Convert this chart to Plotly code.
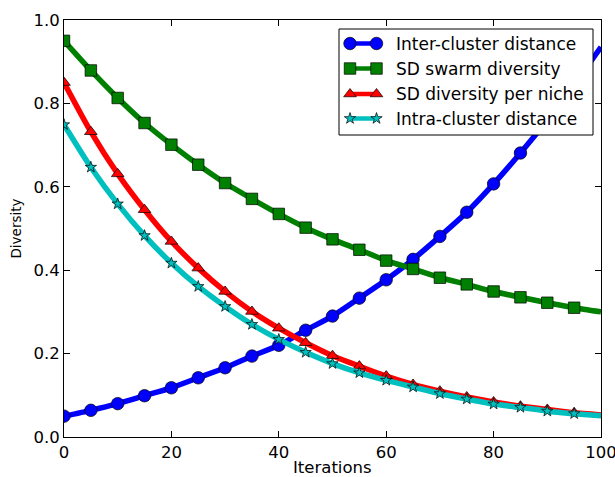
import plotly.graph_objects as go

# Iteration grid (markers every 5 iterations, lines run to 100)
iterations = [0, 5, 10, 15, 20, 25, 30, 35, 40, 45, 50,
              55, 60, 65, 70, 75, 80, 85, 90, 95, 100]

inter_cluster = [0.050, 0.064, 0.080, 0.099, 0.118, 0.142, 0.166, 0.194, 0.220, 0.256, 0.290,
                 0.333, 0.377, 0.426, 0.481, 0.539, 0.607, 0.681, 0.760, 0.845, 0.935]
sd_swarm = [0.950, 0.879, 0.813, 0.753, 0.701, 0.653, 0.609, 0.571, 0.535, 0.502, 0.474,
            0.449, 0.423, 0.403, 0.382, 0.366, 0.349, 0.335, 0.322, 0.310, 0.300]
sd_niche = [0.850, 0.732, 0.631, 0.545, 0.469, 0.405, 0.349, 0.301, 0.261, 0.226, 0.195,
            0.170, 0.146, 0.126, 0.110, 0.096, 0.084, 0.074, 0.066, 0.058, 0.053]
intra_cluster = [0.749, 0.647, 0.559, 0.483, 0.417, 0.361, 0.313, 0.270, 0.234, 0.203, 0.176,
                 0.154, 0.136, 0.120, 0.104, 0.091, 0.079, 0.071, 0.062, 0.056, 0.051]

series_names = ["Inter-cluster distance", "SD swarm diversity",
                "SD diversity per niche", "Intra-cluster distance"]
series_values = [inter_cluster, sd_swarm, sd_niche, intra_cluster]
series_colors = ["#0000ff", "#008000", "#ff0000", "#00bfbf"]
series_symbols = ["circle", "square", "triangle-up", "star"]
series_sizes = [12.5, 11.5, 11, 8.5]

FONT = "DejaVu Sans, Liberation Sans, sans-serif"
W, H = 615, 477
M_L, M_R, M_T, M_B = 64, 14, 20, 40

fig = go.Figure()
for name, vals, color, symbol, size in zip(series_names, series_values, series_colors,
                                           series_symbols, series_sizes):
    # smooth line all the way to the last iteration
    fig.add_trace(go.Scatter(
        x=iterations, y=vals, mode="lines", showlegend=False, hoverinfo="skip",
        line=dict(color=color, width=5.5, shape="spline", smoothing=0.6),
    ))
    # markers every 5 iterations (up to 95)
    fig.add_trace(go.Scatter(
        x=iterations[:-1], y=vals[:-1], mode="markers", name=name, showlegend=False,
        marker=dict(symbol=symbol, size=size, color=color,
                    line=dict(color="black", width=0.7)),
    ))

# Legend box drawn on an overlay axis measured in pixels (matplotlib-style
# samples: a short line with a marker at each end)
LEG_X0, LEG_X1, LEG_Y0, LEG_Y1 = 339, 593, 29, 135
LEG_ROWS = [43.5, 68.5, 94, 118.5]
SAMPLE_X = [350, 376.5]
TEXT_X = 394

fig.add_trace(go.Scatter(
    x=[LEG_X0, LEG_X1, LEG_X1, LEG_X0, LEG_X0],
    y=[LEG_Y0, LEG_Y0, LEG_Y1, LEG_Y1, LEG_Y0],
    xaxis="x2", yaxis="y2", mode="lines", fill="toself", fillcolor="white",
    line=dict(color="black", width=1), showlegend=False, hoverinfo="skip",
))
for name, color, symbol, size, row in zip(series_names, series_colors, series_symbols,
                                          series_sizes, LEG_ROWS):
    fig.add_trace(go.Scatter(
        x=SAMPLE_X, y=[row, row], xaxis="x2", yaxis="y2", mode="lines+markers",
        line=dict(color=color, width=4.5),
        marker=dict(symbol=symbol, size=size, color=color,
                    line=dict(color="black", width=0.7)),
        showlegend=False, hoverinfo="skip", cliponaxis=False,
    ))
    fig.add_annotation(
        x=TEXT_X, y=row, xref="x2", yref="y2", text=name, showarrow=False,
        xanchor="left", yanchor="middle",
        font=dict(family=FONT, size=17, color="black"),
    )

axis_common = dict(
    showgrid=False, zeroline=False, showline=True, linecolor="black", linewidth=1,
    mirror="ticks", ticks="inside", ticklen=6, tickwidth=1, tickcolor="black",
    tickfont=dict(family=FONT, size=16.5, color="black"),
    automargin=False, ticklabeloverflow="allow",
)

fig.update_xaxes(range=[0, 100], tick0=0, dtick=20, **axis_common)
fig.update_yaxes(range=[0, 1], tick0=0, dtick=0.2, tickformat=".1f",
                 title=dict(text="Diversity", font=dict(family=FONT, size=13.5, color="black"),
                            standoff=8),
                 **axis_common)

# x-axis title placed below the tick labels
fig.add_annotation(
    x=0.5, y=0, xref="paper", yref="paper", text="Iterations", showarrow=False,
    xanchor="center", yanchor="middle", yshift=-30, borderpad=0,
    font=dict(family=FONT, size=16.5, color="black"),
)

fig.update_layout(
    width=W, height=H,
    margin=dict(l=M_L, r=M_R, t=M_T, b=M_B),
    paper_bgcolor="white", plot_bgcolor="white",
    font=dict(family=FONT, color="black"),
    showlegend=False,
    xaxis2=dict(overlaying="x", range=[M_L, W - M_R], visible=False, fixedrange=True),
    yaxis2=dict(overlaying="y", range=[H - M_B, M_T], visible=False, fixedrange=True),
)

fig.write_html("out.html")
